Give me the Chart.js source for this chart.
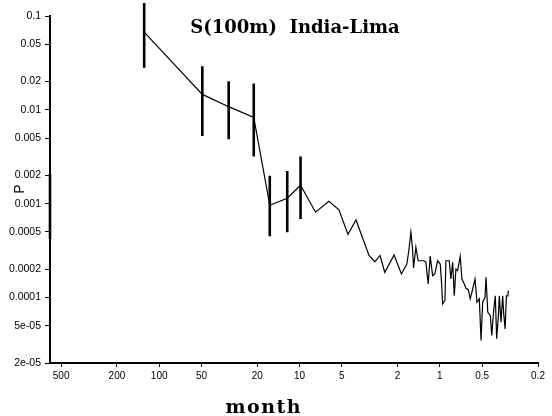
<!DOCTYPE html>
<html>
<head>
<meta charset="utf-8">
<script src="https://cdn.jsdelivr.net/npm/chart.js@4/dist/chart.umd.min.js"></script>
<style>
html,body{margin:0;padding:0;background:#fff;}
#wrap{width:552px;height:416px;}
</style>
</head>
<body>
<div id="wrap"><canvas id="c" width="552" height="416"></canvas></div>
<script>
// ---- data ----
const titleText = "S(100m)  India-Lima";
const xTitle = "month";
const yTitle = "P";

const periods = [128, 49.3, 32.0, 21.2, 16.3, 12.24, 9.84, 7.69, 6.18, 5.24,
  4.52, 3.96, 3.20, 2.91, 2.67, 2.47, 2.12, 1.88, 1.72, 1.66,
  1.61, 1.567, 1.541, 1.483, 1.429, 1.307, 1.259, 1.212, 1.173, 1.127,
  1.086, 1.038, 0.995, 0.972, 0.957, 0.921, 0.906, 0.858, 0.835, 0.811,
  0.790, 0.769, 0.748, 0.716, 0.697, 0.670, 0.652, 0.628, 0.608, 0.584,
  0.562, 0.544, 0.524, 0.509, 0.496, 0.477, 0.469, 0.456, 0.437, 0.427,
  0.413, 0.403, 0.394, 0.383, 0.377, 0.367, 0.357, 0.351, 0.343, 0.336,
  0.328, 0.325];

const power = [0.0673, 0.0146, 0.0108, 0.0083, 0.00096, 0.00114, 0.00157, 0.00081, 0.00106, 0.00086,
  0.00047, 0.00067, 0.00028, 0.00024, 0.00028, 0.000185, 0.000283, 0.000178, 0.000227, 0.000328,
  0.000498, 0.000328, 0.000206, 0.000344, 0.000246, 0.000246, 0.000239, 0.000139, 0.000276, 0.000171,
  0.000178, 0.000246, 0.000227, 0.000139, 0.0000853, 0.0000925, 0.000246, 0.000246, 0.000157, 0.000237,
  0.000104, 0.000201, 0.000193, 0.000274, 0.000157, 0.000139, 0.000125, 0.000121, 0.0000964, 0.000123,
  0.000157, 0.0000889, 0.0000964, 0.0000347, 0.0000889, 0.0001005, 0.000164, 0.0000697, 0.000064, 0.0000393,
  0.0000755, 0.000104, 0.0000362, 0.000064, 0.000104, 0.0000545, 0.000104, 0.0000667, 0.0000462, 0.000104,
  0.000104, 0.000118];

// error bars (period, upper, lower)
const errPeriod = [600, 128, 49.3, 32.0, 21.2, 16.3, 12.24, 9.84];
const errHigh   = [0.00206, 0.138, 0.0292, 0.0202, 0.0191, 0.00198, 0.00223, 0.00318];
const errLow    = [0.000419, 0.0281, 0.00526, 0.00486, 0.00318, 0.000448, 0.000494, 0.000684];

const xTickValues = [500, 200, 100, 50, 20, 10, 5, 2, 1, 0.5, 0.2];
const xTickLabels = ["500", "200", "100", "50", "20", "10", "5", "2", "1", "0.5", "0.2"];
const yTickValues = [0.1, 0.05, 0.02, 0.01, 0.005, 0.002, 0.001, 0.0005, 0.0002, 0.0001, 0.00005, 0.00002];
const yTickLabels = ["0.1", "0.05", "0.02", "0.01", "0.005", "0.002", "0.001", "0.0005", "0.0002", "0.0001", "5e-05", "2e-05"];

// ---- build datasets ----
const mainData = periods.map((p, i) => ({x: p, y: power[i]}));
const datasets = [{
  label: "spectrum",
  data: mainData,
  borderColor: "#000",
  borderWidth: 1.2,
  pointRadius: 0,
  tension: 0,
  fill: false,
  order: 2
}];
errPeriod.forEach((p, i) => {
  datasets.push({
    label: "err" + i,
    data: [{x: p, y: errHigh[i]}, {x: p, y: errLow[i]}],
    borderColor: "#000",
    borderWidth: 2.6,
    borderCapStyle: "butt",
    pointRadius: 0,
    fill: false,
    clip: false,
    order: 1
  });
});

const xTickFont = {family: "'Liberation Sans', Arial, sans-serif", size: 10};
const yTickFont = {family: "'Liberation Sans', Arial, sans-serif", size: 10.5};

const textPlugin = {
  id: "texts",
  afterDraw(chart) {
    const ctx = chart.ctx;
    const a = chart.chartArea;
    ctx.save();
    ctx.fillStyle = "#000";
    // title inside plot
    ctx.font = "bold 18px 'DejaVu Serif', serif";
    ctx.textAlign = "center";
    ctx.textBaseline = "alphabetic";
    ctx.fillText(titleText, (a.left + a.right) / 2 + 1, 33);
    // x axis title
    ctx.font = "bold 19px 'DejaVu Serif', serif";
    try { ctx.letterSpacing = "1.5px"; } catch (e) {}
    ctx.fillText(xTitle, a.left + (a.right - a.left) * 0.438, 413);
    try { ctx.letterSpacing = "0px"; } catch (e) {}
    // y axis title
    ctx.font = "14px 'Liberation Sans', Arial, sans-serif";
    ctx.translate(20, 189);
    ctx.rotate(-Math.PI / 2);
    ctx.textBaseline = "middle";
    ctx.fillText(yTitle, 0, 0);
    ctx.restore();
  }
};

new Chart(document.getElementById("c"), {
  type: "line",
  data: {datasets},
  plugins: [textPlugin],
  options: {
    responsive: false,
    animation: false,
    devicePixelRatio: 1,
    layout: {padding: {top: 16, right: 14, bottom: 0, left: 0}},
    plugins: {legend: {display: false}, tooltip: {enabled: false}, title: {display: false}},
    scales: {
      x: {
        type: "logarithmic",
        reverse: true,
        min: 0.2,
        max: 600,
        afterBuildTicks: s => { s.ticks = xTickValues.map(v => ({value: v})); },
        afterFit: s => { s.height = 53; },
        ticks: {
          autoSkip: false, maxRotation: 0, minRotation: 0, padding: 3,
          color: "#000", font: xTickFont,
          callback: (v, i) => xTickLabels[i]
        },
        grid: {display: true, drawOnChartArea: false, drawTicks: true, tickLength: 4, color: "#000", lineWidth: 1},
        border: {display: true, color: "#000", width: 2}
      },
      y: {
        type: "logarithmic",
        min: 0.00002,
        max: 0.1,
        afterBuildTicks: s => { s.ticks = yTickValues.map(v => ({value: v})); },
        afterFit: s => { s.width = 50; },
        ticks: {
          autoSkip: false, padding: 4,
          color: "#000", font: yTickFont,
          callback: (v, i) => yTickLabels[i]
        },
        grid: {display: true, drawOnChartArea: false, drawTicks: true, tickLength: 5, color: "#000", lineWidth: 1},
        border: {display: true, color: "#000", width: 2}
      }
    }
  }
});
</script>
</body>
</html>
